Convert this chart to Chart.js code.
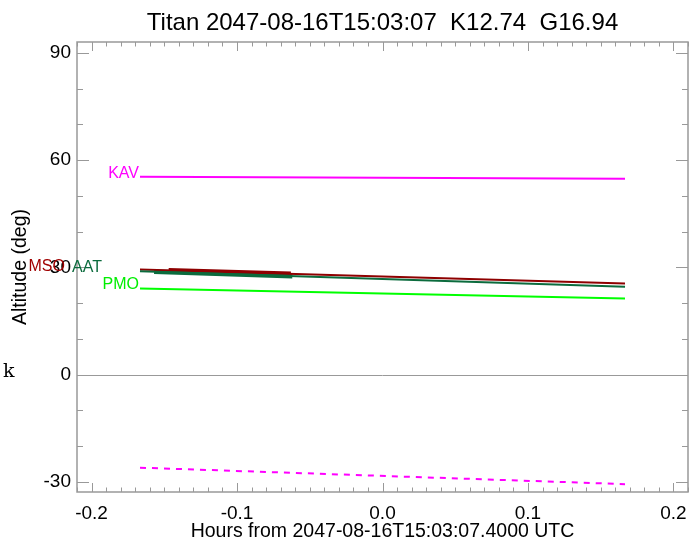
<!doctype html>
<html lang="en">
<head>
<meta charset="utf-8">
<title>Titan 2047-08-16T15:03:07</title>
<script src="https://cdn.jsdelivr.net/npm/chart.js@4.4.0/dist/chart.umd.min.js"></script>
<style>
  body { margin: 0; background: #fff; }
  #chart { display: block; }
</style>
</head>
<body>
<canvas id="chart" width="700" height="541"></canvas>
<script>
  // hours from 2047-08-16T15:03:07.4 UTC, start and end of each track
  var hours = [-0.1667, 0.1667];
  var kavAlt = [55.3, 54.8];
  var msoAlt = [29.4, 25.5];
  var aatAlt = [28.9, 24.6];
  var pmoAlt = [24.1, 21.3];
  var kavLowAlt = [-26.0, -30.6];

  // thick part of the MSO and AAT tracks
  var msoObsHours = [-0.147, -0.063];
  var msoObsAlt = [29.2, 28.2];
  var aatObsHours = [-0.157, -0.062];
  var aatObsAlt = [28.8, 27.5];

  var xTicks = [-0.2, -0.1, 0.0, 0.1, 0.2];
  var yTicks = [-30, 0, 30, 60, 90];

  var FONT = '"Liberation Sans", Arial, Helvetica, sans-serif';
  var AXIS = '#999999';

  function pts(xs, ys) {
    var out = [];
    for (var i = 0; i < xs.length; i++) out.push({ x: xs[i], y: ys[i] });
    return out;
  }

  // site names drawn at the start of each track (shift = how far left, in label widths)
  var siteLabels = [
    { name: 'KAV', alt: kavAlt, color: '#ff00ff', shift: 0 },
    { name: 'MSO', alt: msoAlt, color: '#a00000', shift: 2 },
    { name: 'AAT', alt: aatAlt, color: '#0b6b3d', shift: 1 },
    { name: 'PMO', alt: pmoAlt, color: '#00ee00', shift: 0 }
  ];

  var boxPlugin = {
    id: 'box',
    beforeDatasetsDraw: function (chart) {
      var ctx = chart.ctx, a = chart.chartArea;
      var y0 = Math.round(chart.scales.y.getPixelForValue(0)) + 0.5;
      ctx.save();
      ctx.strokeStyle = AXIS;
      ctx.lineWidth = 1;
      ctx.beginPath();
      ctx.moveTo(a.left, y0);
      ctx.lineTo(a.right, y0);
      ctx.stroke();
      ctx.restore();
    },
    afterDraw: function (chart) {
      var ctx = chart.ctx, a = chart.chartArea;
      var xs = chart.scales.x, ys = chart.scales.y;
      ctx.save();
      ctx.strokeStyle = AXIS;
      ctx.lineWidth = 1.5;
      ctx.strokeRect(a.left, a.top, a.right - a.left, a.bottom - a.top);

      // inward ticks on all four sides
      ctx.lineWidth = 1;
      ctx.beginPath();
      for (var i = -21; i <= 21; i++) {
        var px = Math.round(xs.getPixelForValue(i / 100)) + 0.5;
        var len = (i % 10 === 0) ? 9 : 4.5;
        ctx.moveTo(px, a.bottom); ctx.lineTo(px, a.bottom - len);
        ctx.moveTo(px, a.top); ctx.lineTo(px, a.top + len);
      }
      for (var v = -30; v <= 90; v += 10) {
        var py = Math.round(ys.getPixelForValue(v)) + 0.5;
        var l2 = (v % 30 === 0) ? 12 : 6;
        ctx.moveTo(a.left, py); ctx.lineTo(a.left + l2, py);
        ctx.moveTo(a.right, py); ctx.lineTo(a.right - l2, py);
      }
      ctx.stroke();

      // site labels
      ctx.font = '16px ' + FONT;
      ctx.textAlign = 'right';
      ctx.textBaseline = 'alphabetic';
      var x0 = xs.getPixelForValue(hours[0]);
      siteLabels.forEach(function (s) {
        ctx.fillStyle = s.color;
        ctx.fillText(s.name, x0 - 1 - s.shift * 37, ys.getPixelForValue(s.alt[0]) + 1);
      });

      // title
      ctx.fillStyle = '#000';
      ctx.textAlign = 'center';
      ctx.font = '24px ' + FONT;
      ctx.fillText('Titan 2047-08-16T15:03:07  K12.74  G16.94', (a.left + a.right) / 2, 30);

      // stray mark at the left edge
      ctx.textAlign = 'left';
      ctx.font = '19px "DejaVu Serif", serif';
      ctx.fillText('k', 3, 377);
      ctx.restore();
    }
  };

  new Chart(document.getElementById('chart').getContext('2d'), {
    type: 'line',
    data: {
      datasets: [{
        label: 'AAT',
        data: pts(hours, aatAlt),
        borderColor: '#0b6b3d',
        borderWidth: 2
      }, {
        label: 'MSO',
        data: pts(hours, msoAlt),
        borderColor: '#8e0000',
        borderWidth: 2
      }, {
        label: 'PMO',
        data: pts(hours, pmoAlt),
        borderColor: '#00ff00',
        borderWidth: 2
      }, {
        label: 'KAV',
        data: pts(hours, kavAlt),
        borderColor: '#ff00ff',
        borderWidth: 2
      }, {
        label: 'KAV low',
        data: pts(hours, kavLowAlt),
        borderColor: '#ff00ff',
        borderWidth: 2,
        borderDash: [6, 6]
      }, {
        label: 'AAT obs',
        data: pts(aatObsHours, aatObsAlt),
        borderColor: '#0b6b3d',
        borderWidth: 4.5
      }, {
        label: 'MSO obs',
        data: pts(msoObsHours, msoObsAlt),
        borderColor: '#8e0000',
        borderWidth: 4.5
      }]
    },
    options: {
      responsive: false,
      animation: false,
      devicePixelRatio: 1,
      layout: { padding: { top: 42, right: 12, bottom: 0, left: 0 } },
      elements: { point: { radius: 0 }, line: { tension: 0 } },
      plugins: {
        legend: { display: false },
        tooltip: { enabled: false },
        title: { display: false }
      },
      scales: {
        x: {
          type: 'linear',
          min: -0.21,
          max: 0.21,
          afterBuildTicks: function (s) { s.ticks = xTicks.map(function (v) { return { value: v }; }); },
          afterFit: function (s) { s.height = 49; },
          grid: { display: false, drawTicks: false },
          border: { display: false },
          ticks: {
            color: '#000',
            font: { family: FONT, size: 19 },
            padding: 10,
            maxRotation: 0,
            autoSkip: false,
            callback: function (v) { return Number(v).toFixed(1); }
          },
          title: {
            display: true,
            text: 'Hours from 2047-08-16T15:03:07.4000 UTC',
            color: '#000',
            font: { family: FONT, size: 19.5, lineHeight: 1 },
            padding: { top: 0, bottom: 0 }
          }
        },
        y: {
          type: 'linear',
          min: -32.8,
          max: 93,
          afterBuildTicks: function (s) { s.ticks = yTicks.map(function (v) { return { value: v }; }); },
          afterFit: function (s) { s.width = 77; },
          grid: { display: false, drawTicks: false },
          border: { display: false },
          ticks: {
            color: '#000',
            font: { family: FONT, size: 19 },
            padding: 6,
            autoSkip: false
          },
          title: {
            display: true,
            text: 'Altitude (deg)',
            color: '#000',
            font: { family: FONT, size: 19.5, lineHeight: 1 },
            padding: { top: 11, bottom: 0 }
          }
        }
      }
    },
    plugins: [boxPlugin]
  });
</script>
</body>
</html>
